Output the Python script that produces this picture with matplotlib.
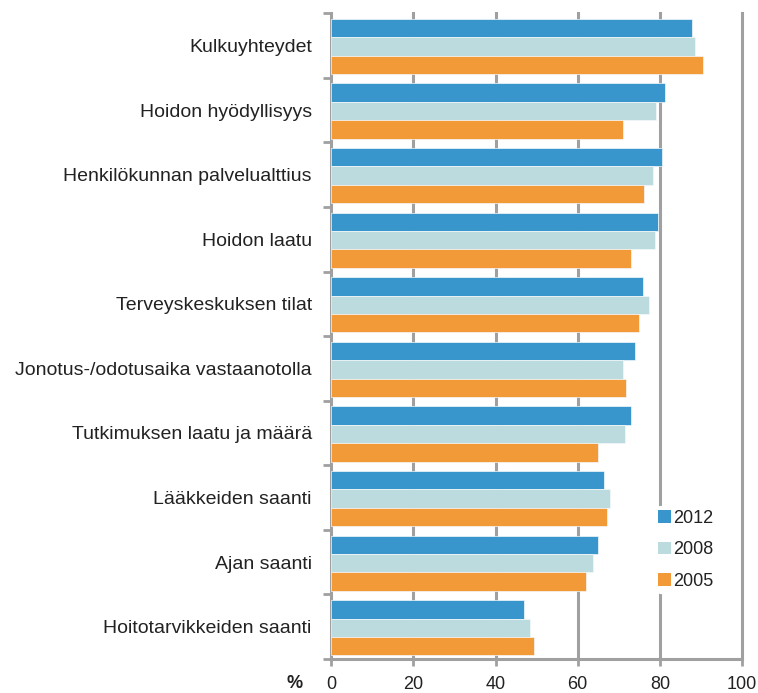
import numpy as np
import matplotlib.pyplot as plt
from matplotlib.patches import Patch

plt.rcParams['font.family'] = ['Liberation Sans', 'DejaVu Sans']

categories = [
    "Kulkuyhteydet",
    "Hoidon hyödyllisyys",
    "Henkilökunnan palvelualttius",
    "Hoidon laatu",
    "Terveyskeskuksen tilat",
    "Jonotus-/odotusaika vastaanotolla",
    "Tutkimuksen laatu ja määrä",
    "Lääkkeiden saanti",
    "Ajan saanti",
    "Hoitotarvikkeiden saanti",
]
years = ["2012", "2008", "2005"]
v2012 = [87.8, 81.3, 80.6, 79.5, 75.8, 74.0, 72.9, 66.4, 65.0, 46.8]
v2008 = [88.6, 79.1, 78.4, 78.8, 77.3, 71.1, 71.4, 67.8, 63.8, 48.3]
v2005 = [90.4, 71.1, 76.2, 72.9, 74.8, 71.8, 65.0, 67.1, 62.0, 49.3]
colors = ["#3896CC", "#BCDBDF", "#F39A38"]
xticks = [0, 20, 40, 60, 80, 100]

grid_c = "#A0A0A0"
txt_c = "#222222"

fig = plt.figure(figsize=(7.58, 6.93), dpi=100)
ax = fig.add_axes([0.437, 0.049, 0.979 - 0.437, 0.932])

n = len(categories)
ypos = np.arange(n)[::-1]  # first category at top
h = 0.285
for k, (vals, c) in enumerate(zip([v2012, v2008, v2005], colors)):
    ax.barh(ypos + (1 - k) * h - 0.015, vals, height=h, color=c,
            edgecolor="#f4f8fa", linewidth=0.5, zorder=3)

ax.set_xlim(0, 100)
ax.set_ylim(-0.5, n - 0.5)
ax.set_xticks(xticks)
ax.set_xticklabels([str(t) for t in xticks], fontsize=13, color=txt_c)
for t in xticks[1:]:
    ax.axvline(t, color=grid_c, lw=2.2, zorder=1, clip_on=False)

# category boundary ticks, labels on minor ticks at centres
ax.set_yticks(np.arange(-0.5, n, 1.0))
ax.set_yticklabels([])
ax.set_yticks(ypos, minor=True)
ax.set_yticklabels(categories, minor=True, fontsize=14, color=txt_c)
ax.tick_params(axis="y", which="major", length=6, width=2, color=grid_c, direction="out")
ax.tick_params(axis="y", which="minor", length=0, pad=14)
ax.tick_params(axis="x", length=5, width=2, color=grid_c, direction="out", pad=7)

for s in ["top", "right"]:
    ax.spines[s].set_visible(False)
for s in ["left", "bottom"]:
    ax.spines[s].set_color(grid_c)
    ax.spines[s].set_linewidth(2.2)

fig.text(295 / 758, 1 - 684 / 693, "%", fontsize=13, fontweight="bold", color=txt_c,
         ha="center", va="center")

handles = [Patch(facecolor=c, edgecolor="none", label=y) for y, c in zip(years, colors)]
leg = ax.legend(handles=handles, loc="upper left", bbox_to_anchor=(0.796, 0.231),
                frameon=True, fontsize=13, handlelength=0.68, handleheight=0.68,
                handletextpad=0.12, labelspacing=0.8, borderpad=0.0,
                borderaxespad=0, labelcolor=txt_c)
leg.get_frame().set_facecolor("white")
leg.get_frame().set_edgecolor("white")
leg.get_frame().set_linewidth(6)
leg.get_frame().set_alpha(1)
leg.set_zorder(5)

fig.savefig("out.png", dpi=100, facecolor="white")
